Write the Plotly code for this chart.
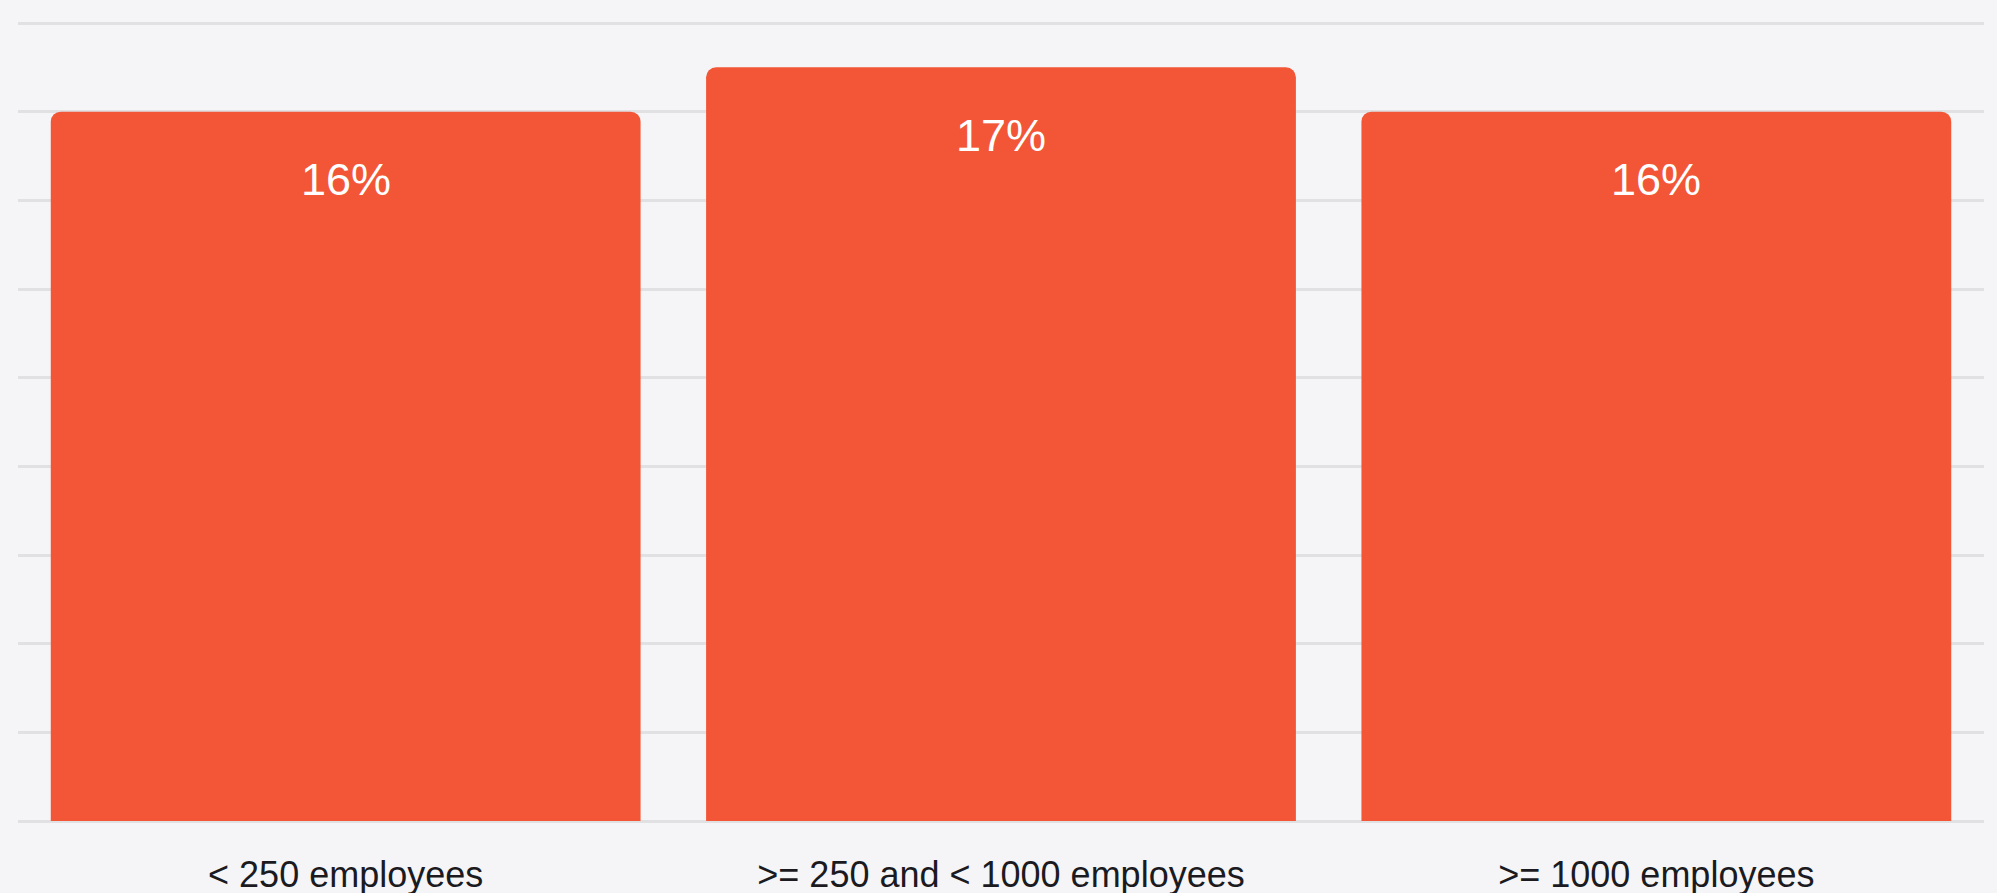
import plotly.graph_objects as go

# Share of respondents by company size
categories = ["< 250 employees", ">= 250 and < 1000 employees", ">= 1000 employees"]
values = [16, 17, 16]
labels = [f"{v}%" for v in values]

BAR_COLOR = "#F25636"
BG = "#F5F5F7"
GRID = "#E1E1E4"
FONT = "Liberation Sans, Arial, Helvetica, sans-serif"

# small padding beyond 0 and 18 so the edge gridlines are still drawn
PAD = 0.1128

fig = go.Figure(
    go.Bar(
        x=categories,
        y=values,
        marker=dict(color=BAR_COLOR, cornerradius=10, line=dict(width=0)),
        hoverinfo="skip",
    )
)

# value labels sitting inside the top of each bar
for cat, val, lab in zip(categories, values, labels):
    fig.add_annotation(
        x=cat, y=val, text=lab, showarrow=False,
        yanchor="middle", yshift=-68,
        font=dict(family=FONT, size=45, color="#FFFFFF"),
    )

fig.update_layout(
    width=1997,
    height=893,
    margin=dict(l=18, r=13, t=18, b=67, autoexpand=False),
    paper_bgcolor=BG,
    plot_bgcolor=BG,
    bargap=0.1,
    showlegend=False,
    font=dict(family=FONT, color="#1B1B1F"),
)
fig.update_xaxes(
    showgrid=False, zeroline=False, showline=False, ticks="",
    tickfont=dict(family=FONT, size=36, color="#1B1B1F"),
    ticklabelstandoff=24, automargin=False,
)
fig.update_yaxes(
    range=[-PAD, 18 + PAD], dtick=2, tick0=0, showticklabels=False,
    showgrid=True, gridcolor=GRID, gridwidth=3,
    zeroline=False, showline=False, ticks="", automargin=False,
)

fig.write_html("out.html")
